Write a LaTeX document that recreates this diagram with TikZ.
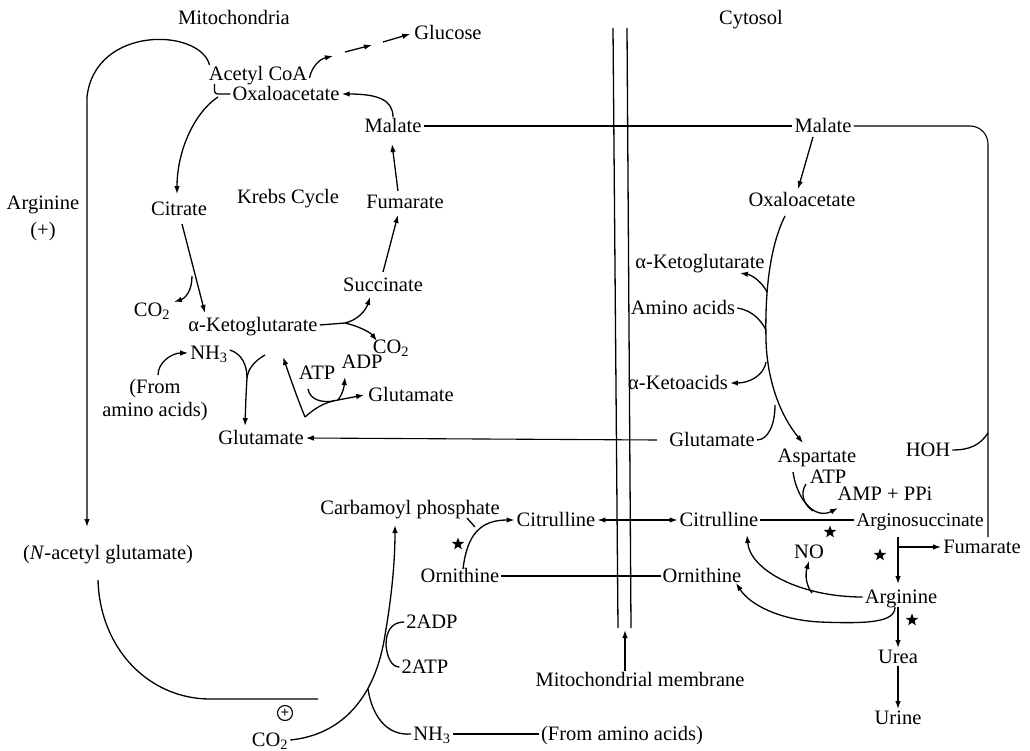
\documentclass[tikz,border=0pt]{standalone}
\usepackage{fontspec}
\setmainfont{Liberation Serif}
\usetikzlibrary{arrows.meta,shapes.geometric,calc}
\begin{document}
\begin{tikzpicture}[x=1pt,y=-1pt,
  lab/.style={font=\fontsize{20.5}{22}\selectfont, inner sep=2pt, text height=13.5pt, text depth=0pt},
  tight/.style={lab, inner sep=0pt},
  arr/.style={line width=1.3pt, -{Latex[length=8pt,width=5.5pt]}},
  ln/.style={line width=1.3pt},
  hl/.style={line width=1.1pt},
  starnode/.style={star, star points=5, star point ratio=2.4, fill=black, inner sep=0pt, minimum size=13pt}]
\useasboundingbox (0,0) rectangle (1030,751);

% ---------- labels: mitochondria side ----------
\node[lab] (mito) at (234,18) {Mitochondria};
\node[lab] (cyto) at (751,18) {Cytosol};
\node[lab] (glucose) at (448,33) {Glucose};
\node[lab] (acoa) at (258,74) {Acetyl CoA};
\node[lab] (oaaL) at (286,94) {Oxaloacetate};
\node[lab] (malL) at (393,126) {Malate};
\node[lab] (citrate) at (179,209) {Citrate};
\node[lab] (krebs) at (288,197) {Krebs Cycle};
\node[lab] (fumL) at (405,202) {Fumarate};
\node[lab] (argL) at (43,203) {Arginine};
\node[lab] (plusL) at (43,230) {(+)};
\node[lab] (succ) at (383,285) {Succinate};
\node[lab] (akgL) at (253,325) {α-Ketoglutarate};
\node[lab] (co2a) at (152,310) {CO\textsubscript{2}};
\node[lab] (co2b) at (391,347) {CO\textsubscript{2}};
\node[lab] (nh3L) at (209,353) {NH\textsubscript{3}};
\node[lab] (from1) at (155,387) {(From};
\node[lab] (from2) at (155,410) {amino acids)};
\node[lab] (gluL) at (261,438) {Glutamate};
\node[tight] (atpL) at (317,373) {ATP};
\node[tight] (adpL) at (362,362) {ADP};
\node[lab] (gluS) at (411,395) {Glutamate};
\node[lab] (nag) at (108,553) {(\textit{N}-acetyl glutamate)};
\node[lab] (carb) at (410,508) {Carbamoyl phosphate};
\node[lab] (ornL) at (460,576) {Ornithine};
\node[lab] (citL) at (556,520) {Citrulline};
\node[lab] (adp2) at (432,622) {2ADP};
\node[lab] (atp2) at (425,667) {2ATP};
\node[lab] (co2c) at (270,740) {CO\textsubscript{2}};
\node[lab] (nh3b) at (432,734) {NH\textsubscript{3}};
\node[lab] (fromB) at (622,734) {(From amino acids)};
\node[lab] (membrane) at (640,680) {Mitochondrial membrane};
\node[circle, draw, line width=1.1pt, inner sep=0pt, minimum size=15pt,
      font=\fontsize{15}{15}\selectfont\bfseries] (oplus) at (285,713) {+};

% ---------- labels: cytosol side ----------
\node[lab] (malR) at (823,126) {Malate};
\node[lab] (oaaR) at (802,200) {Oxaloacetate};
\node[lab] (akgR) at (700,262) {α-Ketoglutarate};
\node[lab] (amino) at (683,308) {Amino acids};
\node[lab] (aketo) at (678,383) {α-Ketoacids};
\node[lab] (gluR) at (712,440) {Glutamate};
\node[tight] (asp) at (817,456) {Aspartate};
\node[lab] (hoh) at (928,450) {HOH};
\node[tight] (atpR) at (828,477) {ATP};
\node[tight] (amp) at (885,494) {AMP + PPi};
\node[lab] (citR) at (719,520) {Citrulline};
\node[lab, font=\fontsize{19.5}{21}\selectfont] (argsucc) at (920,520) {Arginosuccinate};
\node[lab] (ornR) at (702,576) {Ornithine};
\node[lab] (no) at (809,552) {NO};
\node[lab] (fumR) at (982,547) {Fumarate};
\node[lab] (argR) at (901,597) {Arginine};
\node[lab] (urea) at (898,657) {Urea};
\node[lab] (urine) at (898,718) {Urine};

% stars
\node[starnode] (s1) at (458,544) {};
\node[starnode] (s2) at (830,532) {};
\node[starnode] (s3) at (880,555) {};
\node[starnode] (s4) at (912,620) {};

% ---------- membrane ----------
\draw[ln] (613,28) -- (618,628);
\draw[ln] (627,28) -- (631,628);
\draw[arr] (membrane.north -| 625,0) -- (625,630);

% ---------- mitochondria connectors ----------
\draw[arr] ($(acoa.north west)+(3,0)$) .. controls (200,28) and (95,25) .. (87,97) -- (87,527);
\draw[ln, rounded corners=3pt] ($(acoa.south west)+(8,1)$) |- (oaaL.west);
\coordinate (jc) at (218,97);
\draw[arr] (jc) .. controls (195,112) and (177,150) .. ($(citrate.north)+(-2,-6)$);
\draw[arr] ($(acoa.east)+(0,4)$) .. controls (312,66) and (320,59) .. (333,56);
\draw[arr] (345,52) -- (372,45);
\draw[arr] (383,42) -- ($(glucose.west)+(-2,1)$);
\draw[arr] (malL.north) .. controls (393,100) and (378,94) .. (oaaL.east);
\draw[arr] ($(fumL.north)+(-7,-2)$) -- ($(malL.south)+(-1,9)$);
\draw[arr] ($(citrate.south)+(3,6)$) -- (205,313);
\draw[arr] (192,276) .. controls (192,290) and (186,298) .. (174,302);
\coordinate (jk) at (345,323);
\draw[ln] (akgL.east) -- (jk);
\draw[arr] (jk) .. controls (358,320) and (366,310) .. (370,297);
\draw[arr] (jk) .. controls (358,326) and (370,332) .. (377,341);
\draw[arr] ($(succ.north)+(0,-4)$) -- ($(fumL.south)+(-7,4)$);
\draw[arr] ($(from1.north)+(3,-3)$) .. controls (158,362) and (172,353) .. (nh3L.west);
\coordinate (jg) at (247,378);
\draw[ln] ($(nh3L.east)+(0,-3)$) .. controls (242,354) and (247,365) .. (jg);
\draw[ln] (265,355) .. controls (256,360) and (248,368) .. (jg);
\draw[arr] (jg) .. controls (246,395) .. ($(gluL.north)+(-16,-3)$);
\coordinate (jb) at (305,417);
\coordinate (ja) at (338,400);
\draw[arr] (jb) .. controls (298,400) and (291,380) .. (283,357);
\draw[ln] (jb) .. controls (315,408) and (325,402) .. (ja);
\draw[arr] (ja) .. controls (342,395) and (344,388) .. (345,377);
\draw[arr] (ja) -- ($(gluS.west)+(-2,0)$);
\draw[ln] (308,389) .. controls (310,400) and (322,403) .. (334,401);
\draw[hl, -{Latex[length=8pt,width=5.5pt]}] ($(gluR.west)+(-10,0)$) -- (gluL.east);
\draw[hl] (malL.east) -- (malR.west);
\draw[hl, rounded corners=18pt] (malR.east) -| (988,537);
\draw[ln] (98,580) .. controls (100,650) and (150,699) .. (210,699) -- (318,699);
\draw[arr] (co2c.east) .. controls (340,735) and (375,700) .. (385,635)
   .. controls (392,595) and (395,560) .. (395,525);
\draw[ln] (368,689) .. controls (372,715) and (386,736) .. (nh3b.west);
\draw[ln] (adp2.west) .. controls (391,622) and (386,632) .. (386,645)
   .. controls (387,658) and (392,667) .. (atp2.west);
\draw[hl] (nh3b.east) -- (fromB.west);
\draw[arr] ($(ornL.north)+(3,2)$) .. controls (467,535) and (480,520) .. (citL.west);
\draw[ln] (467,518) -- (475,527);
\draw[hl, {Latex[length=8pt,width=5.5pt]}-{Latex[length=8pt,width=5.5pt]}] (citL.east) -- (citR.west);
\draw[hl] (ornL.east) -- (ornR.west);

% ---------- cytosol connectors ----------
\draw[arr] ($(malR.south)+(-10,2)$) -- ($(oaaR.north)+(-4,-2)$);
\draw[arr] ($(oaaR.south)+(-17,7)$) .. controls (768,250) and (765,300) .. (766,340)
   .. controls (767,380) and (780,415) .. (803,443);
\draw[arr] (767,292) .. controls (762,282) and (752,275) .. (740,273);
\draw[ln] (amino.east) .. controls (750,310) and (760,318) .. (766,330);
\draw[arr] (766,362) .. controls (764,375) and (750,383) .. (aketo.east);
\draw[ln] (gluR.east) .. controls (768,440) and (775,425) .. (775,405);
\draw[hl] (citR.east) -- (argsucc.west);
\draw[arr] (793,472) .. controls (797,500) and (815,520) .. (838,508);
\draw[ln] (806,484) .. controls (800,493) and (803,504) .. (813,511);
\draw[ln] (hoh.east) .. controls (970,450) and (980,445) .. (988,433);
\draw[arr] (898,537) -- (898,584);
\draw[arr] (898,547) -- (fumR.west);
\draw[arr] (argR.west) .. controls (800,597) and (750,570) .. (747,535);
\draw[arr] (812,593) .. controls (806,585) and (805,575) .. (no.south);
\draw[arr] (895,607) .. controls (895,622) and (870,624) .. (820,622)
   .. controls (780,620) and (750,605) .. (736,583);
\draw[arr] (898,607) -- (urea.north);
\draw[arr] (urea.south) -- (urine.north);
\end{tikzpicture}
\end{document}
